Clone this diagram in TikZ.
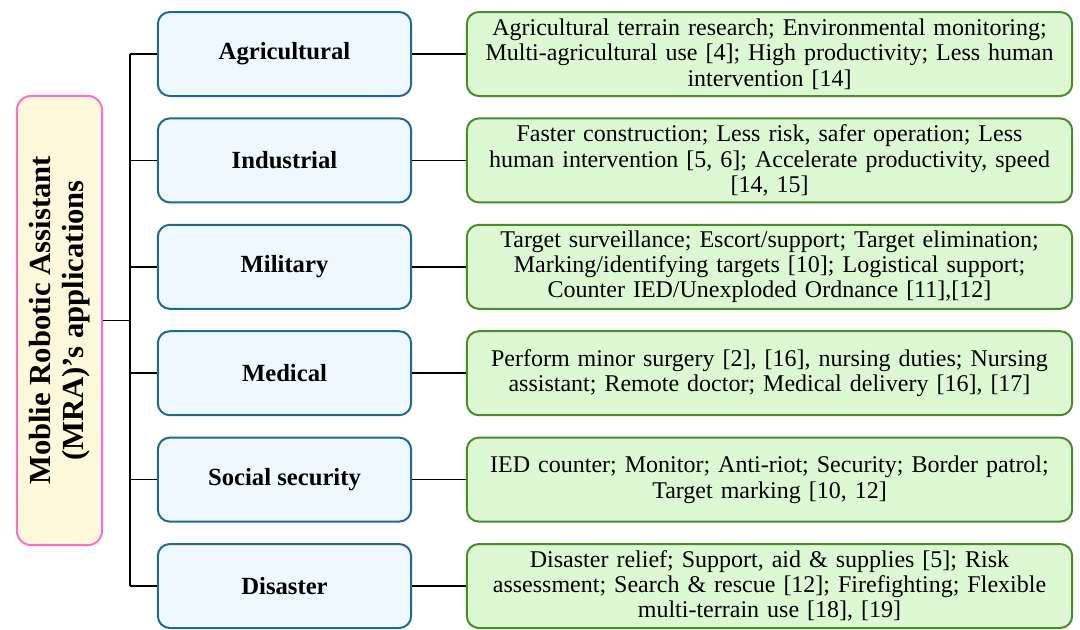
\documentclass[tikz,border=0pt]{standalone}
\usepackage{fontspec}
\setmainfont{Liberation Serif}
\usetikzlibrary{positioning}
\definecolor{rootpink}{HTML}{FF6EC7}
\definecolor{rootfill}{HTML}{FFF9DB}
\definecolor{catblue}{HTML}{1F6B8E}
\definecolor{catfill}{HTML}{EEF8FE}
\definecolor{appgreen}{HTML}{4A8B2C}
\definecolor{appfill}{HTML}{DCF9D4}

\begin{document}
\begin{tikzpicture}[x=0.75pt,y=-0.75pt,
  rootbox/.style={draw=rootpink, fill=rootfill, line width=1.5pt, rounded corners=11pt,
    minimum width=337pt, minimum height=64pt, align=center,
    font=\fontsize{23}{24.5}\selectfont\bfseries},
  catbox/.style={draw=catblue, fill=catfill, line width=1.5pt, rounded corners=9pt,
    minimum width=190pt, minimum height=63pt, font=\fontsize{18.5}{21}\selectfont\bfseries},
  appbox/.style={draw=appgreen, fill=appfill, line width=1.5pt, rounded corners=9pt,
    minimum width=454pt, minimum height=63pt, text width=450pt, align=center,
    inner sep=1pt, font=\fontsize{18}{19}\selectfont},
  link/.style={line width=1.2pt}]
  \useasboundingbox (0,0) rectangle (1080,629);
  % root, turned on its side
  \node[rootbox, rotate=90] (root) at (59.5,320.5) {Moblie Robotic Assistant\\(MRA)'s applications};
  \coordinate (spine) at (130,320.5);
  % categories and what they are used for
  \foreach \i/\cat/\use in {
    1/Agricultural/{Agricultural terrain research; Environmental monitoring;\\Multi-agricultural use [4]; High productivity; Less human\\intervention [14]},
    2/Industrial/{Faster construction; Less risk, safer operation; Less\\human intervention [5, 6]; Accelerate productivity, speed\\{[14, 15]}},
    3/Military/{Target surveillance; Escort/support; Target elimination;\\Marking/identifying targets [10]; Logistical support;\\Counter IED/Unexploded Ordnance [11],[12]},
    4/Medical/{Perform minor surgery [2], [16], nursing duties; Nursing\\assistant; Remote doctor; Medical delivery [16], [17]},
    5/Social security/{IED counter; Monitor; Anti-riot; Security; Border patrol;\\Target marking [10, 12]},
    6/Disaster/{Disaster relief; Support, aid \& supplies [5]; Risk\\assessment; Search \& rescue [12]; Firefighting; Flexible\\multi-terrain use [18], [19]}}{
    \node[catbox] (cat\i) at (284.5,{54+106.4*(\i-1)}) {\cat};
    \node[appbox] (app\i) at (769.5,{54+106.4*(\i-1)}) {\use};
    \draw[link] (cat\i.west -| spine) -- (cat\i.west);
    \draw[link] (cat\i) -- (app\i);
  }
  % tree lines
  \draw[link] (cat1.west -| spine) -- (cat6.west -| spine);
  \draw[link] (root.south) -- (spine);
\end{tikzpicture}
\end{document}
